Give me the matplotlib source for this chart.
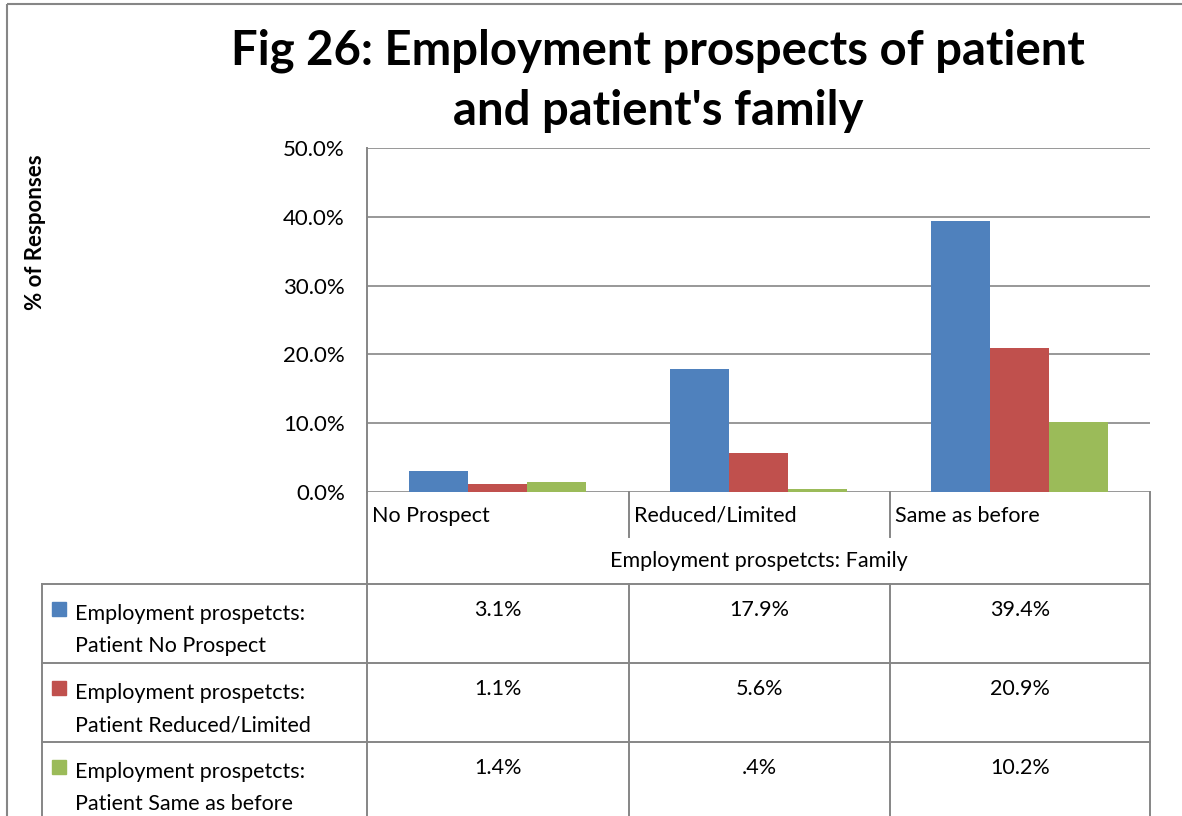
import numpy as np
import matplotlib
matplotlib.use("Agg")
import matplotlib.pyplot as plt
from matplotlib.patches import Rectangle

plt.rcParams['font.family'] = ['Lato', 'DejaVu Sans']

# Data
categories = ["No Prospect", "Reduced/Limited", "Same as before"]
series_names = [
    "Employment prospetcts:\nPatient No Prospect",
    "Employment prospetcts:\nPatient Reduced/Limited",
    "Employment prospetcts:\nPatient Same as before",
]
no_prospect = [3.1, 17.9, 39.4]
reduced_limited = [1.1, 5.6, 20.9]
same_as_before = [1.4, 0.4, 10.2]
series_values = [no_prospect, reduced_limited, same_as_before]
y_ticks = [0, 10, 20, 30, 40, 50]
colors = ["#4F81BD", "#C0504D", "#9BBB59"]

W, H = 1182, 816
GRID = "#868686"
FS = 15.5


def _fmt(v):
    s = f"{v:.1f}%"
    return s[1:] if s.startswith("0.") else s


fig = plt.figure(figsize=(W / 100, H / 100), dpi=100)

# overlay axes in pixel coordinates for the frame and the data table
ov = fig.add_axes([0, 0, 1, 1])
ov.set_xlim(0, W)
ov.set_ylim(H, 0)
ov.axis("off")

# main bar chart
px_l, px_r, px_t, px_b = 367, 1150, 148, 492
ax = fig.add_axes([px_l / W, 1 - px_b / H, (px_r - px_l) / W, (px_b - px_t) / H])
x = np.arange(len(categories))
bw = 0.226
for i, (vals, c) in enumerate(zip(series_values, colors)):
    ax.bar(x + (i - 1) * bw, vals, bw, color=c, zorder=3)
ax.set_xlim(-0.5, len(categories) - 0.5)
ax.set_ylim(0, 50)
ax.set_yticks(y_ticks)
ax.set_yticklabels([f"{t:.1f}%" for t in y_ticks], fontsize=16)
ax.set_xticks([])
ax.yaxis.grid(True, color=GRID, linewidth=1.2, zorder=0)
ax.tick_params(axis="y", length=0, pad=16)
for s in ["top", "right", "bottom"]:
    ax.spines[s].set_visible(False)
ax.spines["left"].set_color(GRID)
ax.spines["left"].set_linewidth(1.4)
ax.set_facecolor("none")

ax.set_ylabel("% of Responses", fontsize=16, fontweight="bold")
ax.yaxis.set_label_coords(-(px_l - 46) / (px_r - px_l), (px_b - 232) / (px_b - px_t))

fig.text(658 / W, 1 - 81 / H, "Fig 26: Employment prospects of patient\nand patient's family",
         ha="center", va="center", fontsize=34, fontweight="bold", linespacing=1.45)

# outer frame
ov.add_patch(Rectangle((7, 4), W, H, fill=False, edgecolor=GRID, linewidth=1.5))

# data table
cols = [px_l, 629, 890, px_r]
lw = 1.4
ov.plot([px_l, px_l], [px_b, H], color=GRID, lw=lw)
ov.plot([px_r, px_r], [px_b, H], color=GRID, lw=lw)
for cx in cols[1:-1]:
    ov.plot([cx, cx], [px_b, 537], color=GRID, lw=lw)
    ov.plot([cx, cx], [584, H], color=GRID, lw=lw)
ov.plot([42, 42], [584, H], color=GRID, lw=lw)
rows = [584, 663, 742]
for ry in rows:
    ov.plot([42, px_r], [ry, ry], color=GRID, lw=lw)

for j, cat in enumerate(categories):
    ov.text(cols[j] + 5, 516, cat, ha="left", va="center", fontsize=FS)
ov.text((px_l + px_r) / 2, 561, "Employment prospetcts: Family", ha="center", va="center", fontsize=FS)

for i, (name, vals, c) in enumerate(zip(series_names, series_values, colors)):
    top = rows[i]
    ov.add_patch(Rectangle((52, top + 18), 14, 14, color=c))
    ov.text(75, top + 20, name, ha="left", va="top", fontsize=FS, linespacing=1.75)
    for j, v in enumerate(vals):
        ov.text((cols[j] + cols[j + 1]) / 2, top + 16, _fmt(v), ha="center", va="top", fontsize=FS)

fig.savefig("out.png", dpi=100)
